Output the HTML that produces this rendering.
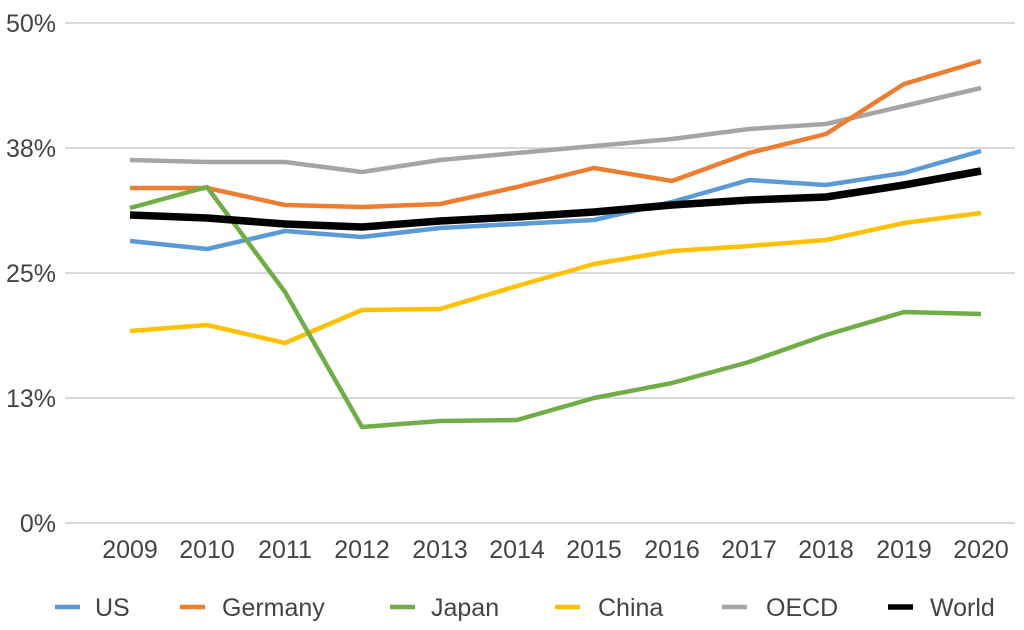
<!DOCTYPE html>
<html><head><style>
body{margin:0;background:#fff;}
text{font-family:"Liberation Sans",sans-serif;fill:#444;font-size:25px;}
</style></head><body>
<svg width="1024" height="625" xmlns="http://www.w3.org/2000/svg">
<g stroke="#d9d9d9" stroke-width="2">
<line x1="65" x2="1015" y1="23" y2="23"/>
<line x1="65" x2="1015" y1="148" y2="148"/>
<line x1="65" x2="1015" y1="273" y2="273"/>
<line x1="65" x2="1015" y1="398" y2="398"/>
<line x1="65" x2="1015" y1="523" y2="523"/>
</g>
<g text-anchor="end">
<text x="56" y="32">50%</text>
<text x="56" y="157">38%</text>
<text x="56" y="282">25%</text>
<text x="56" y="407">13%</text>
<text x="56" y="532">0%</text>
</g>
<g text-anchor="middle">
<text x="130" y="558">2009</text><text x="207" y="558">2010</text><text x="285" y="558">2011</text><text x="362" y="558">2012</text><text x="440" y="558">2013</text><text x="517" y="558">2014</text><text x="594" y="558">2015</text><text x="672" y="558">2016</text><text x="749" y="558">2017</text><text x="826" y="558">2018</text><text x="904" y="558">2019</text><text x="981" y="558">2020</text>
</g>
<g fill="none" stroke-width="4.5" stroke-linejoin="round">
<polyline stroke="#a5a5a5" points="130,160 207,162 285,162 362,172 440,160 517,153 594,146 672,139 749,129 826,124 904,106 981,88"/>
<polyline stroke="#ffc000" points="130,331 207,325 285,343 362,310 440,309 517,286 594,264 672,251 749,246 826,240 904,223 981,213"/>
<polyline stroke="#5b9bd5" points="130,241 207,249 285,231 362,237 440,228 517,224 594,220 672,202 749,180 826,185 904,173 981,151"/>
<polyline stroke="#ed7d31" points="130,188 207,188 285,205 362,207 440,204 517,187 594,168 672,181 749,153 826,134 904,84 981,61"/>
<polyline stroke="#70ad47" points="130,208 207,187 285,292 362,427 440,421 517,420 594,398 672,383 749,362 826,335 904,312 981,314"/>
<polyline stroke="#000" stroke-width="7.5" points="130,215 207,218 285,224 362,227 440,221 517,217 594,212 672,205 749,200 826,197 904,185 981,171"/>
</g>
<g stroke-width="4.5">
<line x1="55" x2="80" y1="607" y2="607" stroke="#5b9bd5"/>
<line x1="180" x2="205" y1="607" y2="607" stroke="#ed7d31"/>
<line x1="390" x2="415" y1="607" y2="607" stroke="#70ad47"/>
<line x1="555" x2="580" y1="607" y2="607" stroke="#ffc000"/>
<line x1="722" x2="747" y1="607" y2="607" stroke="#a5a5a5"/>
<line x1="888" x2="913" y1="607" y2="607" stroke="#000" stroke-width="5.5"/>
</g>
<text x="95" y="616">US</text>
<text x="222" y="616">Germany</text>
<text x="431" y="616">Japan</text>
<text x="598" y="616">China</text>
<text x="766" y="616">OECD</text>
<text x="930" y="616">World</text>
</svg>
</body></html>
